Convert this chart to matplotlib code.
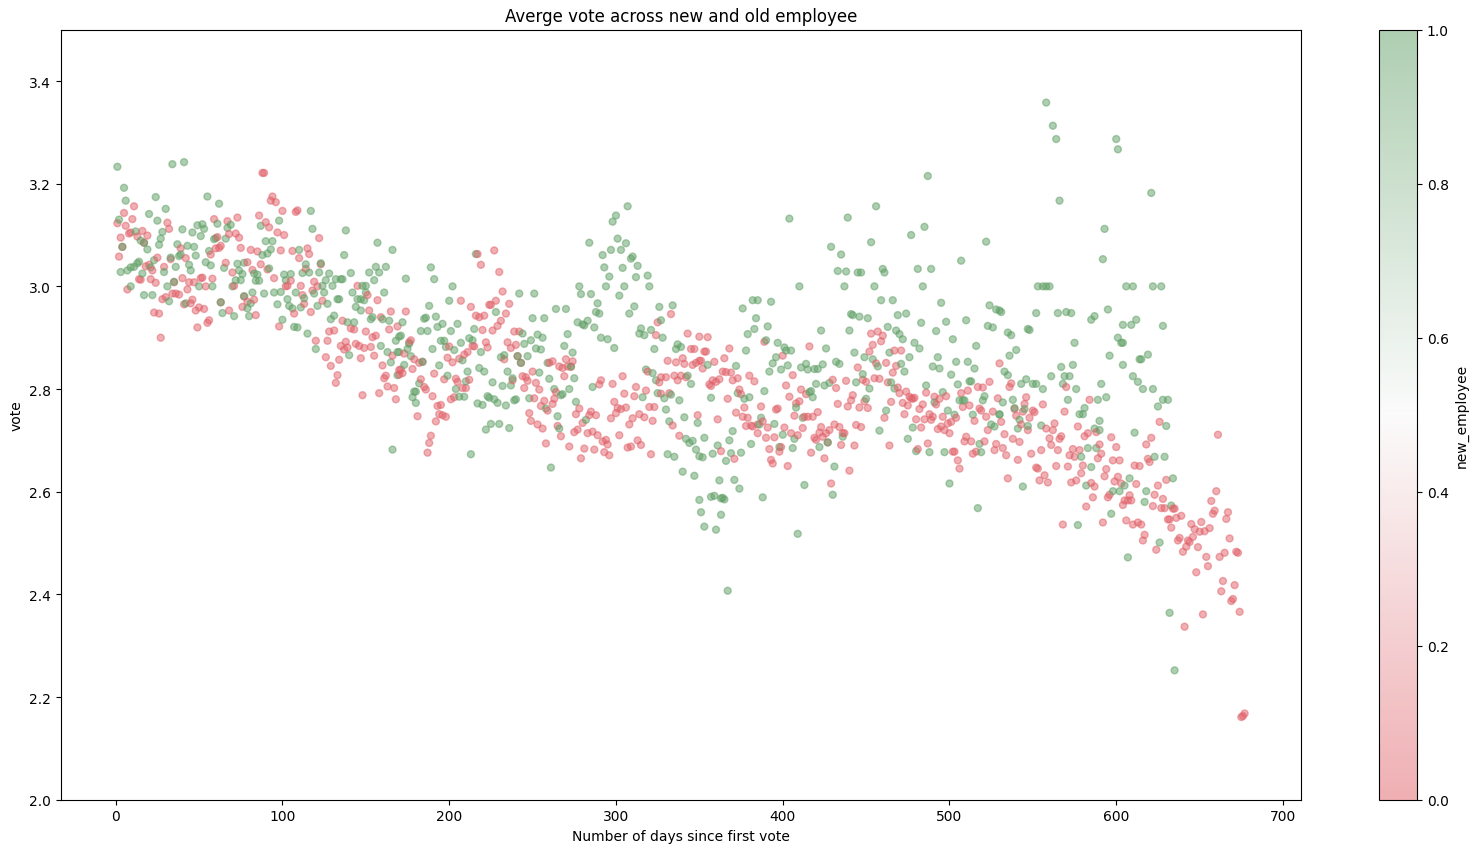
import matplotlib
matplotlib.use('Agg')
import numpy as np
import matplotlib.pyplot as plt
from matplotlib.colors import LinearSegmentedColormap

# (days since first vote, average vote)
old_employee = [
    (88,3.221),(89,3.221),(94,3.175),(93,3.167),(96,3.164),(100,3.147),(108,3.145),(109,3.148),(86,3.138),(90,3.125),
    (92,3.115),(97,3.105),(101,3.1),(122,3.094),(11,3.156),(5,3.143),(10,3.131),(1,3.123),(6,3.118),(8,3.103),(9,3.105),
    (16,3.108),(19,3.099),(13,3.097),(3,3.095),(17,3.085),(4,3.077),(2,3.058),(31,3.124),(32,3.112),(59,3.131),(67,3.127),
    (73,3.134),(61,3.096),(72,3.103),(68,3.102),(74,3.095),(39,3.074),(63,3.079),(60,3.074),(62,3.075),(57,3.062),(75,3.075),
    (81,3.071),(85,3.068),(99,3.07),(106,3.069),(115,3.074),(116,3.063),(110,3.055),(42,3.055),(33,3.053),(25,3.056),(18,3.039),
    (20,3.042),(22,3.031),(29,3.038),(66,3.046),(79,3.047),(87,3.043),(82,3.032),(91,3.033),(70,3.027),(114,3.034),(123,3.043),
    (15,3.013),(14,3.014),(21,3.014),(24,3.007),(40,3.016),(35,3.008),(51,3.016),(52,3.017),(58,3.015),(44,3.008),(47,3.008),
    (54,3.0),(43,2.994),(7,2.994),(71,3.001),(95,3.016),(105,3.011),(103,3.001),(102,3.0),(111,3.001),(119,3.009),(121,3.0),
    (118,2.992),(145,3.001),(151,2.983),(34,2.986),(36,2.986),(38,2.984),(30,2.979),(28,2.975),(46,2.974),(45,2.967),(41,2.965),
    (50,2.959),(48,2.953),(53,2.956),(63,2.969),(77,2.98),(83,2.974),(79,2.97),(76,2.96),(68,2.953),(84,2.944),(23,2.949),
    (26,2.947),(56,2.934),(55,2.929),(49,2.92),(27,2.9),(98,2.922),(107,2.947),(112,2.983),(113,2.966),(117,2.95),(124,2.972),
    (136,2.933),(141,2.918),(143,2.916),(128,2.912),(131,2.914),(150,2.912),(157,2.973),(152,2.953),(165,2.951),(159,2.94),
    (169,2.922),(164,2.916),(156,2.904),(154,2.901),(120,2.894),(127,2.894),(138,2.892),(135,2.884),(139,2.881),(137,2.877),
    (144,2.888),(146,2.884),(149,2.88),(153,2.882),(126,2.862),(134,2.857),(147,2.86),(155,2.865),(166,2.865),(129,2.845),
    (160,2.846),(133,2.827),(132,2.812),(162,2.826),(161,2.821),(163,2.805),(167,2.802),(158,2.792),(148,2.788),(168,2.78),
    (170,2.837),
    (217,3.063),(227,3.07),(219,3.042),(230,3.028),(232,2.99),(207,2.972),(213,2.96),(228,2.972),(224,2.964),(225,2.964),
    (236,2.966),(234,2.947),(216,2.943),(218,2.94),(221,2.943),(231,2.933),(229,2.923),(226,2.914),(220,2.915),(174,2.951),
    (239,2.912),(242,2.912),(177,2.895),(176,2.891),(200,2.883),(215,2.883),(214,2.884),(222,2.891),(223,2.881),(235,2.891),
    (240,2.886),(237,2.88),(211,2.872),(209,2.867),(206,2.859),(173,2.869),(199,2.861),(202,2.852),(179,2.858),(182,2.851),
    (184,2.853),(233,2.858),(241,2.864),(243,2.851),(262,2.854),(270,2.858),(274,2.854),(260,2.851),(266,2.844),(268,2.841),
    (271,2.844),(273,2.843),(178,2.839),(171,2.838),(172,2.831),(170,2.828),(191,2.83),(250,2.834),(269,2.825),(183,2.819),
    (197,2.819),(204,2.82),(205,2.814),(212,2.818),(244,2.825),(246,2.823),(247,2.816),(238,2.817),(252,2.812),(304,2.825),
    (319,2.834),(327,2.823),(330,2.823),(335,2.826),(339,2.826),(342,2.823),(331,2.855),(336,2.852),(340,2.86),(341,2.849),
    (346,2.847),(348,2.851),(350,2.855),(345,2.878),(347,2.878),(343,2.908),(350,2.902),(324,2.905),(325,2.93),(333,2.946),
    (291,2.817),(290,2.809),(298,2.81),(312,2.804),(318,2.797),(327,2.791),(332,2.792),(326,2.813),(337,2.817),(185,2.804),
    (186,2.799),(208,2.802),(210,2.802),(245,2.802),(254,2.799),(264,2.794),(305,2.791),(311,2.786),(190,2.786),(201,2.78),
    (203,2.784),(251,2.782),(257,2.777),(263,2.781),(255,2.767),(259,2.758),(262,2.771),(299,2.775),(301,2.763),(303,2.761),
    (306,2.764),(300,2.753),(320,2.765),(323,2.765),(193,2.767),(195,2.769),(278,2.762),(276,2.751),(285,2.756),(288,2.749),
    (284,2.749),(280,2.734),(297,2.743),(310,2.743),(314,2.751),(317,2.745),(248,2.753),(194,2.751),(196,2.749),(198,2.746),
    (181,2.747),(192,2.737),(249,2.738),(253,2.731),(256,2.723),(265,2.728),(308,2.731),(322,2.738),(334,2.729),(349,2.749),
    (277,2.721),(275,2.716),(283,2.714),(286,2.717),(289,2.71),(267,2.708),(302,2.71),(338,2.709),(189,2.709),(188,2.695),
    (187,2.676),(292,2.698),(294,2.701),(295,2.692),(258,2.694),(313,2.7),(315,2.691),(309,2.688),(307,2.686),(272,2.688),
    (281,2.684),(287,2.682),(293,2.677),(296,2.671),(321,2.673),(279,2.665),
    (355,2.901),(353,2.873),(354,2.873),(368,2.879),(359,2.853),(365,2.86),(351,2.855),(352,2.84),(389,2.892),(416,2.883),
    (400,2.865),(364,2.834),(366,2.833),(369,2.832),(380,2.826),(383,2.815),(406,2.827),(373,2.821),(370,2.817),(362,2.819),
    (360,2.814),(358,2.817),(357,2.806),(356,2.809),(430,2.818),(438,2.816),(402,2.807),(432,2.802),(374,2.799),(375,2.79),
    (411,2.799),(414,2.79),(410,2.776),(408,2.772),(404,2.785),(367,2.781),(442,2.788),(441,2.778),(439,2.766),(433,2.771),
    (457,2.912),(453,2.908),(460,2.904),(459,2.893),(454,2.886),(452,2.873),(467,2.875),(471,2.875),(456,2.85),(462,2.851),
    (468,2.845),(466,2.832),(445,2.842),(448,2.818),(450,2.814),(455,2.821),(458,2.82),(463,2.813),(469,2.803),(470,2.792),
    (474,2.795),(476,2.785),(477,2.782),(478,2.781),(479,2.783),(486,2.793),(491,2.785),(494,2.781),(498,2.786),(492,2.77),
    (507,2.792),(511,2.797),(517,2.804),(520,2.803),(524,2.814),(529,2.782),(530,2.85),(449,2.776),(446,2.764),(451,2.763),
    (472,2.773),(475,2.768),(484,2.77),(482,2.761),(465,2.775),(512,2.768),(508,2.765),(518,2.762),(519,2.758),(526,2.756),
    (377,2.764),(372,2.754),(387,2.766),(396,2.76),(397,2.762),(421,2.755),(418,2.746),(415,2.746),(413,2.746),(407,2.748),
    (361,2.741),(376,2.746),(379,2.744),(461,2.744),(473,2.751),(480,2.741),(485,2.741),(488,2.751),(490,2.746),(489,2.74),
    (496,2.746),(504,2.744),(515,2.738),(522,2.746),(388,2.737),(378,2.728),(381,2.729),(382,2.727),(385,2.731),(444,2.73),
    (447,2.726),(431,2.731),(434,2.726),(391,2.725),(401,2.725),(483,2.725),(493,2.722),(495,2.727),(497,2.72),(499,2.733),
    (501,2.736),(500,2.714),(523,2.72),(409,2.71),(405,2.714),(412,2.724),(423,2.726),(428,2.72),(426,2.714),(424,2.707),
    (422,2.715),(437,2.714),(436,2.714),(385,2.714),(390,2.705),(395,2.706),(419,2.705),(420,2.701),(427,2.696),(435,2.691),
    (443,2.69),(510,2.707),(509,2.698),(513,2.698),(521,2.698),(464,2.69),(487,2.694),(399,2.687),(398,2.678),(392,2.683),
    (363,2.679),(371,2.664),(417,2.676),(425,2.665),(481,2.683),(502,2.678),(503,2.678),(505,2.661),(506,2.645),(516,2.678),
    (514,2.674),(528,2.693),(527,2.681),(393,2.662),(394,2.655),(403,2.65),(440,2.641),(429,2.616),
    (537,2.811),(536,2.804),(570,2.804),(546,2.784),(545,2.771),(556,2.77),(584,2.779),(539,2.761),(544,2.756),(550,2.758),
    (551,2.755),(540,2.748),(548,2.744),(569,2.756),(531,2.736),(543,2.731),(547,2.72),(533,2.712),(563,2.733),(558,2.723),
    (562,2.72),(577,2.727),(583,2.714),(581,2.708),(588,2.716),(597,2.706),(626,2.736),(661,2.711),(621,2.705),(618,2.692),
    (538,2.703),(542,2.697),(560,2.704),(567,2.708),(566,2.703),(561,2.691),(532,2.685),(555,2.681),(565,2.681),(574,2.683),
    (578,2.681),(600,2.687),(590,2.692),(534,2.671),(549,2.674),(572,2.671),(575,2.668),(591,2.674),(589,2.665),(541,2.662),
    (619,2.664),(620,2.658),(598,2.661),(602,2.661),(552,2.647),(553,2.645),(564,2.65),(571,2.649),(580,2.651),(611,2.651),
    (614,2.65),(594,2.644),(579,2.636),(593,2.63),(535,2.626),(557,2.632),(554,2.622),(559,2.618),(576,2.622),(573,2.618),
    (585,2.617),(587,2.61),(601,2.629),(599,2.62),(603,2.616),(612,2.615),(625,2.612),(630,2.623),(660,2.601),(657,2.582),
    (623,2.594),(628,2.586),(596,2.594),(595,2.589),(586,2.589),(608,2.593),(605,2.583),(607,2.583),(609,2.583),(604,2.574),
    (622,2.572),(627,2.568),(629,2.568),(634,2.567),(635,2.567),(582,2.571),(659,2.563),(658,2.557),(667,2.56),(666,2.547),
    (639,2.553),(636,2.549),(631,2.546),(632,2.546),(606,2.544),(613,2.54),(615,2.536),(610,2.536),(592,2.54),(568,2.536),
    (645,2.537),(651,2.541),(633,2.53),(647,2.527),(650,2.522),(653,2.523),(656,2.529),(617,2.516),(616,2.505),(646,2.512),
    (638,2.51),(637,2.505),(643,2.505),(644,2.502),(668,2.509),(642,2.493),(649,2.492),(640,2.483),(624,2.487),(665,2.481),
    (662,2.473),(672,2.483),(673,2.481),(654,2.473),(655,2.455),(648,2.443),(664,2.426),(671,2.418),(663,2.406),(670,2.391),
    (669,2.387),(674,2.366),(652,2.361),(641,2.337),(677,2.168),(676,2.163),(675,2.161),
]

new_employee = [
    (1,3.233),(34,3.238),(41,3.242),(5,3.192),(6,3.167),(24,3.174),(30,3.151),(20,3.141),(25,3.128),(2,3.13),(55,3.175),
    (62,3.161),(40,3.111),(46,3.105),(49,3.119),(52,3.121),(53,3.112),(51,3.098),(61,3.122),(67,3.114),(69,3.12),(66,3.093),
    (59,3.092),(60,3.094),(28,3.106),(27,3.093),(26,3.081),(37,3.082),(43,3.079),(47,3.077),(48,3.06),(39,3.062),(38,3.059),
    (33,3.056),(23,3.051),(19,3.072),(15,3.089),(17,3.085),(12,3.107),(4,3.077),(14,3.048),(13,3.045),(11,3.038),(9,3.037),
    (7,3.031),(3,3.028),(16,3.025),(21,3.037),(29,3.028),(36,3.038),(44,3.042),(45,3.031),(54,3.047),(57,3.041),(56,3.069),
    (65,3.036),(73,3.044),(77,3.046),(74,3.031),(76,3.024),(72,3.012),(75,3.012),(70,3.0),(58,3.0),(50,3.0),(31,3.0),(9,3.0),
    (17,2.983),(22,2.983),(32,2.971),(35,3.009),(42,2.967),(63,2.969),(64,2.948),(71,2.942),(80,2.942),(79,2.957),(81,2.967),
    (77,2.981),(82,2.988),(89,2.986),(83,3.025),(85,3.023),(84,3.011),(86,3.011),(92,3.035),(88,3.061),(91,3.064),(93,3.072),
    (90,3.088),(94,3.088),(87,3.118),(98,3.128),(117,3.147),(118,3.112),(138,3.109),(110,3.071),(137,3.061),(157,3.085),
    (166,3.071),(114,3.043),(123,3.045),(112,3.026),(116,3.027),(101,3.023),(105,3.024),(122,3.027),(128,3.025),(141,3.026),
    (152,3.027),(158,3.027),(156,3.038),(162,3.038),(155,3.012),(102,3.012),(132,3.014),(135,3.014),(136,3.014),(126,3.012),
    (124,3.001),(130,3.001),(95,2.988),(99,2.989),(108,2.988),(119,2.986),(125,2.988),(142,2.988),(148,3.001),(150,3.001),
    (150,2.988),(161,2.988),(103,2.975),(113,2.977),(97,2.965),(104,2.962),(106,2.957),(111,2.959),(121,2.962),(127,2.966),
    (133,2.975),(134,2.975),(145,2.975),(147,2.975),(149,2.973),(144,2.96),(147,2.953),(100,2.935),(107,2.921),(109,2.92),
    (115,2.908),(120,2.878),(129,2.936),(131,2.943),(139,2.93),(143,2.93),(153,2.936),(154,2.94),(160,2.936),(164,2.933),
    (168,2.894),(170,2.902),(159,2.884),(163,2.872),(140,2.866),(165,2.852),(169,2.827),(169,2.872),(166,2.682),
    (307,3.156),(300,3.138),(298,3.126),(284,3.085),(301,3.093),(306,3.084),(297,3.071),(303,3.071),(292,3.061),(309,3.054),
    (310,3.058),(293,3.037),(304,3.036),(313,3.04),(296,3.019),(312,3.018),(319,3.021),(294,3.0),(305,3.0),(320,3.0),(278,3.0),
    (279,2.985),(285,2.985),(302,2.982),(289,2.967),(311,2.961),(326,2.96),(334,2.963),(264,2.956),(270,2.956),(288,2.95),
    (290,2.947),(308,2.947),(250,2.938),(257,2.938),(277,2.93),(280,2.926),(281,2.924),(283,2.933),(287,2.92),(327,2.934),
    (315,2.918),(314,2.908),(317,2.905),(321,2.915),(328,2.9),(291,2.9),(295,2.897),(299,2.88),(271,2.907),(269,2.884),
    (274,2.871),(323,2.878),(336,2.878),(337,2.887),(339,2.882),(242,2.986),(251,2.986),(216,3.063),(189,3.037),(191,3.014),
    (174,3.015),(202,3.0),(200,2.972),(188,2.962),(228,2.95),(185,2.937),(186,2.939),(192,2.941),(196,2.927),(205,2.927),
    (193,2.921),(215,2.917),(183,2.913),(187,2.913),(201,2.913),(244,2.908),(253,2.906),(256,2.9),(172,2.93),(171,2.904),
    (249,2.895),(245,2.888),(212,2.899),(214,2.895),(195,2.894),(197,2.894),(207,2.89),(198,2.882),(203,2.876),(176,2.888),
    (175,2.878),(170,2.872),(190,2.878),(219,2.872),(252,2.879),(255,2.877),(177,2.864),(173,2.847),(231,2.862),(233,2.866),
    (241,2.864),(247,2.864),(208,2.856),(243,2.851),(259,2.851),(184,2.853),(194,2.846),(218,2.841),(221,2.834),(211,2.834),
    (273,2.844),(254,2.832),(235,2.834),(199,2.826),(238,2.821),(260,2.82),(275,2.821),(324,2.817),(318,2.838),(322,2.831),
    (343,2.826),(345,2.81),(182,2.811),(210,2.815),(226,2.813),(232,2.806),(237,2.807),(286,2.804),(204,2.8),(263,2.8),
    (272,2.8),(179,2.795),(180,2.795),(268,2.79),(267,2.788),(206,2.785),(209,2.785),(223,2.786),(224,2.783),(178,2.784),
    (248,2.782),(227,2.78),(229,2.773),(239,2.778),(240,2.78),(180,2.773),(217,2.772),(220,2.769),(234,2.768),(325,2.792),
    (329,2.782),(333,2.789),(316,2.784),(338,2.778),(276,2.775),(258,2.762),(330,2.76),(265,2.747),(341,2.745),(282,2.74),
    (349,2.734),(332,2.737),(225,2.732),(230,2.732),(236,2.724),(222,2.721),(266,2.723),(342,2.703),(344,2.695),(346,2.699),
    (348,2.682),(213,2.673),(331,2.673),(335,2.668),(261,2.647),(340,2.639),(347,2.631),(350,2.669),
    (487,3.215),(456,3.156),(404,3.132),(439,3.134),(485,3.116),(477,3.1),(522,3.087),(453,3.086),(429,3.077),(435,3.062),
    (507,3.05),(433,3.03),(438,3.029),(445,3.027),(447,3.027),(460,3.034),(461,3.027),(481,3.034),(489,3.034),(410,3.0),
    (437,3.0),(455,3.0),(484,3.0),(459,2.973),(466,2.973),(495,2.968),(524,2.963),(528,2.955),(530,2.953),(382,2.973),
    (385,2.973),(393,2.97),(376,2.957),(441,2.946),(442,2.944),(446,2.941),(451,2.938),(469,2.944),(474,2.947),(483,2.929),
    (498,2.931),(510,2.934),(384,2.938),(383,2.917),(391,2.922),(379,2.907),(423,2.914),(440,2.914),(463,2.921),(468,2.914),
    (470,2.907),(472,2.897),(492,2.913),(502,2.897),(523,2.923),(526,2.92),(390,2.895),(397,2.89),(401,2.881),(402,2.875),
    (405,2.875),(378,2.875),(426,2.879),(479,2.89),(482,2.879),(516,2.884),(443,2.871),(449,2.862),(454,2.858),(464,2.871),
    (476,2.862),(493,2.862),(396,2.862),(394,2.85),(392,2.834),(399,2.838),(403,2.846),(372,2.845),(355,2.847),(411,2.842),
    (414,2.849),(415,2.838),(419,2.839),(421,2.839),(424,2.848),(432,2.853),(434,2.849),(457,2.844),(471,2.849),(473,2.834),
    (490,2.844),(494,2.84),(504,2.853),(511,2.853),(515,2.84),(501,2.828),(448,2.829),(420,2.81),(425,2.807),(428,2.812),
    (444,2.813),(465,2.813),(467,2.801),(452,2.801),(486,2.807),(496,2.794),(505,2.809),(512,2.815),(513,2.815),(389,2.796),
    (373,2.792),(357,2.783),(377,2.781),(380,2.784),(417,2.796),(416,2.794),(418,2.784),(450,2.781),(491,2.774),(508,2.778),
    (506,2.778),(509,2.778),(520,2.778),(521,2.786),(408,2.764),(462,2.758),(499,2.758),(503,2.75),(514,2.75),(387,2.744),
    (412,2.744),(530,2.75),(525,2.731),(527,2.727),(386,2.731),(395,2.732),(400,2.711),(478,2.725),(370,2.718),(353,2.705),
    (368,2.7),(407,2.703),(436,2.707),(458,2.719),(475,2.703),(381,2.693),(361,2.69),(422,2.687),(398,2.687),(427,2.696),
    (406,2.685),(518,2.693),(519,2.677),(358,2.674),(369,2.675),(375,2.676),(352,2.667),(366,2.66),(480,2.679),(488,2.677),
    (497,2.677),(431,2.649),(362,2.622),(371,2.623),(374,2.606),(413,2.613),(500,2.616),(430,2.594),(359,2.592),(363,2.587),
    (365,2.585),(388,2.589),(350,2.584),(351,2.56),(353,2.532),(360,2.526),(363,2.555),(357,2.59),(364,2.588),(367,2.407),
    (409,2.518),(517,2.568),
    (575,2.89),(603,2.89),(540,2.876),(536,2.865),(596,2.865),(619,2.867),(614,2.858),(615,2.858),(567,2.843),(574,2.847),
    (604,2.847),(533,2.834),(535,2.827),(561,2.825),(569,2.825),(572,2.825),(610,2.825),(613,2.814),(546,2.819),(543,2.81),
    (550,2.81),(552,2.81),(556,2.8),(568,2.81),(591,2.81),(576,2.8),(616,2.8),(622,2.8),(538,2.779),(532,2.774),(571,2.779),
    (589,2.779),(594,2.784),(628,2.779),(631,2.779),(625,2.766),(581,2.763),(578,2.751),(580,2.751),(539,2.763),(545,2.761),
    (530,2.751),(590,2.738),(542,2.74),(547,2.728),(541,2.723),(555,2.729),(587,2.723),(630,2.728),(611,2.715),(583,2.685),
    (588,2.685),(579,2.668),(623,2.668),(629,2.668),(585,2.648),(608,2.626),(634,2.626),(582,2.612),(605,2.612),(544,2.61),
    (598,2.601),(602,2.601),(618,2.601),(617,2.58),(633,2.573),(597,2.557),(577,2.535),(626,2.501),(607,2.472),(632,2.364),
    (635,2.252),
    (558,3.358),(562,3.313),(564,3.287),(600,3.287),(601,3.267),(566,3.167),(621,3.182),(593,3.112),(592,3.053),(610,3.0),
    (622,3.0),(627,3.0),(606,3.0),(556,3.0),(558,3.0),(560,3.0),(553,3.0),(570,2.95),(565,2.948),(573,2.948),(585,2.935),
    (587,2.942),(595,2.955),(612,2.935),(609,2.925),(604,2.925),(628,2.923),(601,2.9),(604,2.89),(547,2.917),(548,2.915),
    (535,2.91),(537,2.905),(531,2.95),(552,2.948),(590,2.72),
]

tick_values = [0.0, 0.2, 0.4, 0.6, 0.8, 1.0]


def main():
    old = np.array(old_employee)
    new = np.array(new_employee)
    days = np.concatenate([old[:, 0], new[:, 0]])
    votes = np.concatenate([old[:, 1], new[:, 1]])
    flags = np.concatenate([np.zeros(len(old)), np.ones(len(new))])
    order = np.argsort(days, kind='stable')

    cmap = LinearSegmentedColormap.from_list(
        'red_green', ['#e16169', '#f8f8f8', '#5f9f65'])

    fig = plt.figure(figsize=(14.78, 8.53), dpi=100)
    ax = fig.add_axes([61 / 1478, 1 - 800.7 / 853, 1240 / 1478, 770 / 853])
    cax = fig.add_axes([1379 / 1478, 1 - 800.7 / 853, 38 / 1478, 770 / 853])

    sc = ax.scatter(days[order], votes[order], c=flags[order], cmap=cmap,
                    vmin=0, vmax=1, alpha=0.5, s=25)
    ax.set_ylim(2.0, 3.5)
    ax.set_xlabel('Number of days since first vote')
    ax.set_ylabel('vote')
    ax.set_title('Averge vote across new and old employee')

    cbar = fig.colorbar(sc, cax=cax)
    cbar.set_ticks(tick_values)
    cbar.set_label('new_employee')

    fig.savefig('out.png', dpi=100)


if __name__ == "__main__":
    main()
